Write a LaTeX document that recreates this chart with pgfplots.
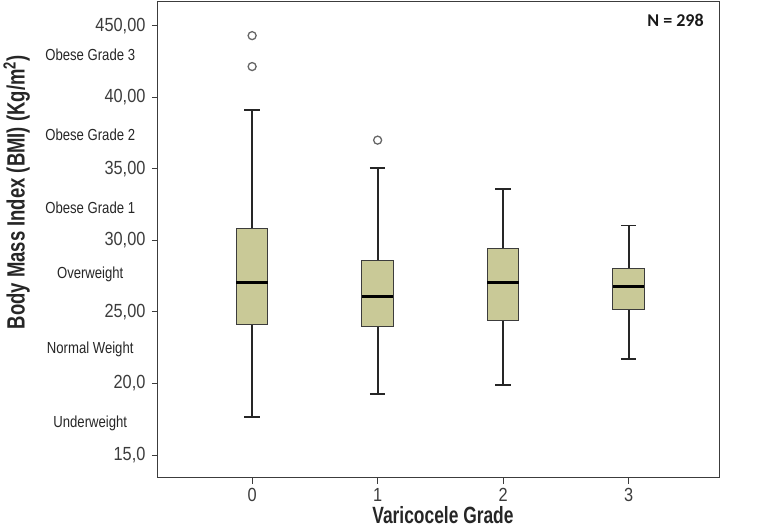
\documentclass[border=0pt]{standalone}
\usepackage{fontspec}
\setmainfont{Liberation Sans}[FakeStretch=0.82]
\newfontfamily\condbold{Liberation Sans}[FakeStretch=0.74]
\newfontfamily\condreg{Liberation Sans}[FakeStretch=0.86]
\newfontfamily\carlito{Carlito}
\usepackage{pgfplots}
\pgfplotsset{compat=1.18}
\usepgfplotslibrary{statistics}
\definecolor{boxfill}{RGB}{201,201,151}
\definecolor{axgray}{RGB}{60,60,60}
\begin{document}
\begin{tikzpicture}
\path[use as bounding box] (0pt,0pt) rectangle (764pt,530pt);
\begin{axis}[
 at={(158pt,52pt)}, anchor=south west,
 scale only axis, width=561pt, height=476pt,
 xmin=-0.75, xmax=3.72, ymin=13.4, ymax=46.65,
 axis line style={axgray, line width=1pt},
 xtick={0,1,2,3}, ytick={15,20,25,30,35,40,45},
 xticklabels={0,1,2,3},
 yticklabels={{15,0},{20,0},{25,00},{30,00},{35,00},{40,00},{450,00}},
 tick align=outside, tick pos=left, major tick length=6pt,
 tick style={axgray, line width=1pt},
 ticklabel style={font=\condreg\fontsize{19}{21}\selectfont, text=axgray},
 yticklabel style={xshift=-3pt},
 xticklabel style={yshift=-1pt},
 xlabel={Varicocele Grade},
 ylabel={Body Mass Index (BMI) (Kg/m\textsuperscript{2})},
 every axis x label/.style={at={(rel axis cs:0.508,-0.078)}, anchor=center, font=\condbold\bfseries\fontsize{23.5}{25}\selectfont, text=black!85},
 every axis y label/.style={at={(rel axis cs:-0.252,0.60)}, anchor=center, rotate=90, font=\condbold\bfseries\fontsize{25}{27}\selectfont, text=black!85},
 clip=false,
 boxplot/draw direction=y,
 boxplot/box extend=0.25,
 boxplot/whisker extend=0.125,
 boxplot/every box/.style={draw=axgray, fill=boxfill, line width=1pt},
 boxplot/every median/.style={black, line width=2.5pt},
 boxplot/every whisker/.style={black!85, line width=1.8pt},
]
\addplot[solid, draw=axgray, mark=o, mark size=4pt, mark options={black!60, line width=1.3pt},
 boxplot prepared={draw position=0, lower whisker=17.67, lower quartile=24.11, median=27.07, upper quartile=30.81, upper whisker=39.1}]
 table[row sep=\\, y index=0] {y\\ 44.3\\ 42.14\\};
\addplot[solid, draw=axgray, mark=o, mark size=4pt, mark options={black!60, line width=1.3pt},
 boxplot prepared={draw position=1, lower whisker=19.28, lower quartile=23.95, median=26.07, upper quartile=28.6, upper whisker=35.07}]
 table[row sep=\\, y index=0] {y\\ 37.0\\};
\addplot[solid, draw=axgray, mark=o, mark size=4pt, mark options={black!60, line width=1.3pt},
 boxplot prepared={draw position=2, lower whisker=19.88, lower quartile=24.37, median=27.07, upper quartile=29.4, upper whisker=33.58}]
 coordinates {};
\addplot[solid, draw=axgray, mark=o, mark size=4pt, mark options={black!60, line width=1.3pt},
 boxplot prepared={draw position=3, lower whisker=21.74, lower quartile=25.14, median=26.79, upper quartile=28.02, upper whisker=31.04}]
 coordinates {};
\begin{scope}[every node/.style={font=\fontsize{16}{18}\selectfont, text=black!85}]
\node at (axis cs:-1.29,42.96) {Obese Grade 3};
\node at (axis cs:-1.29,37.37) {Obese Grade 2};
\node at (axis cs:-1.29,32.27) {Obese Grade 1};
\node at (axis cs:-1.29,27.6) {Overweight};
\node at (axis cs:-1.29,22.4) {Normal Weight};
\node at (axis cs:-1.29,17.2) {Underweight};
\end{scope}
\node[anchor=east, font=\carlito\bfseries\fontsize{18}{20}\selectfont, text=black!90] at (rel axis cs:0.979,0.962) {N = 298};
\end{axis}
\end{tikzpicture}
\end{document}
